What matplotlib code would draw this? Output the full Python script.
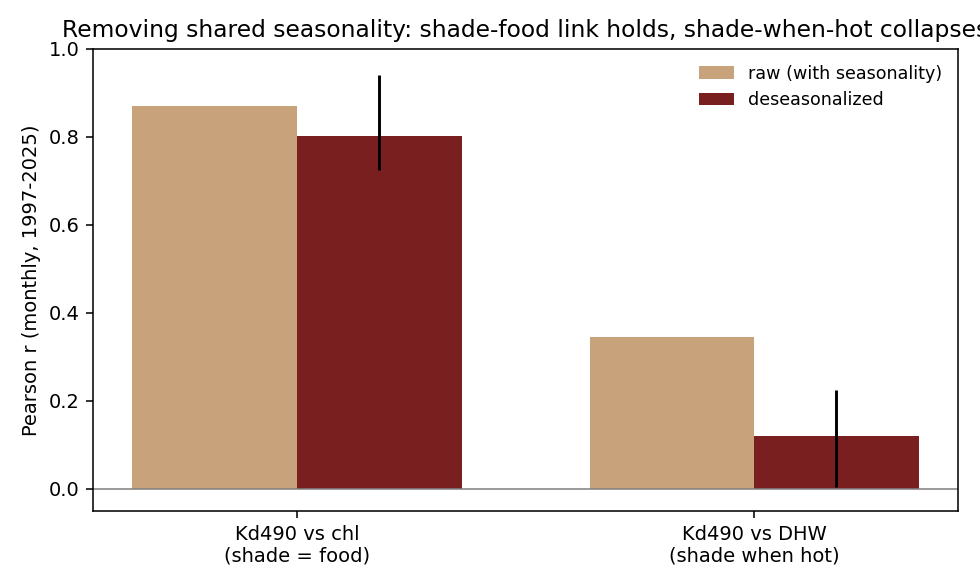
import numpy as np
import matplotlib
matplotlib.use("Agg")
import matplotlib.pyplot as plt

pairs = ["Kd490 vs chl\n(shade = food)", "Kd490 vs DHW\n(shade when hot)"]
raw_r = [0.870, 0.345]
deseason_r = [0.803, 0.120]
deseason_lo = [0.725, 0.005]
deseason_hi = [0.940, 0.225]

x = np.arange(len(pairs))
w = 0.36

fig = plt.figure(figsize=(7, 4.2), dpi=140)
ax = fig.add_axes([0.095, 0.1310, 0.8826, 0.7857])

ax.bar(x - w / 2, raw_r, w, color="#c8a27a", label="raw (with seasonality)")
yerr = [np.array(deseason_r) - np.array(deseason_lo),
        np.array(deseason_hi) - np.array(deseason_r)]
ax.bar(x + w / 2, deseason_r, w, color="#7a1f1f", label="deseasonalized",
       yerr=yerr, error_kw=dict(ecolor="black", elinewidth=1.5, capsize=0))
ax.axhline(0, color="gray", linewidth=0.8)

ax.set_xticks(x)
ax.set_xticklabels(pairs)
ax.set_ylim(-0.05, 1.0)
ax.set_ylabel("Pearson r (monthly, 1997-2025)")
ax.set_title("Removing shared seasonality: shade-food link holds, shade-when-hot collapses",
             fontsize=12)
ax.legend(frameon=False, fontsize=9)

fig.savefig("out.png", dpi=140)
